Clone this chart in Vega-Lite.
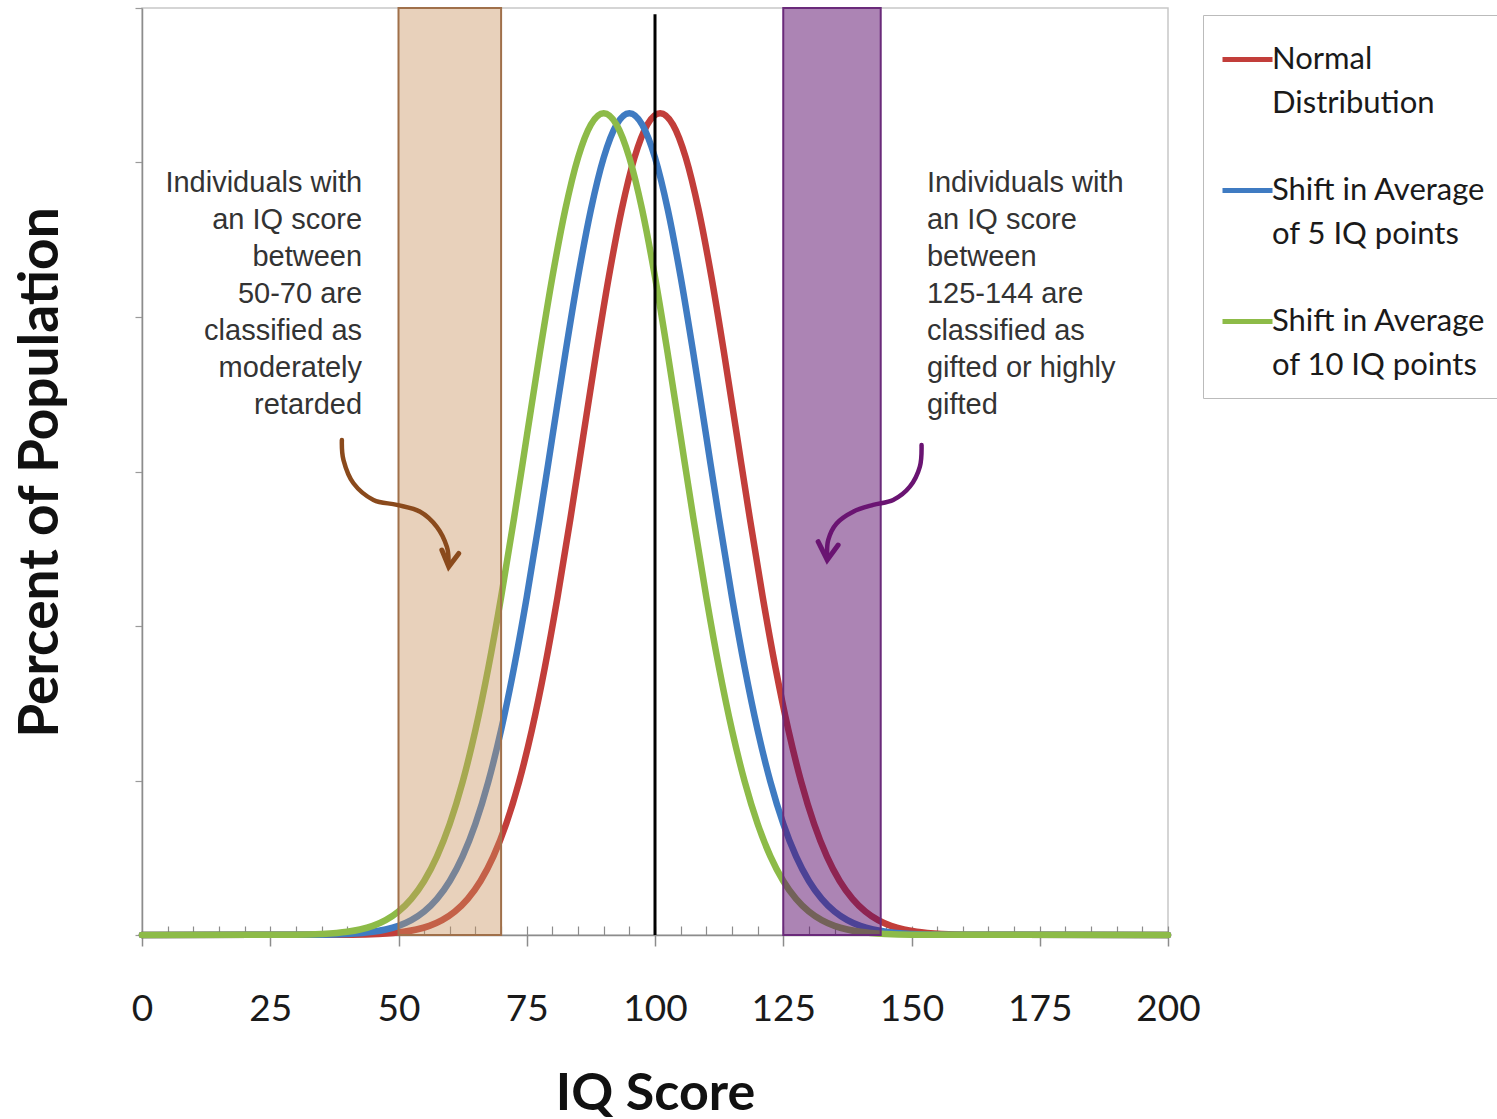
{
  "$schema": "https://vega.github.io/schema/vega-lite/v6.json",
  "width": 1026,
  "height": 927,
  "autosize": {"type": "none"},
  "padding": {"left": 142, "top": 8, "right": 329, "bottom": 184},
  "background": "white",
  "config": {
    "font": "Lato",
    "view": {"stroke": "#C8C8C8", "strokeWidth": 1.5},
    "style": {"guide-label": {"lineHeight": 44}}
  },
  "datasets": {
    "curves": [
      {"s": "Normal", "x": 0, "y": 0},
      {"s": "Normal", "x": 41, "y": 0.0009},
      {"s": "Normal", "x": 46, "y": 0.0032},
      {"s": "Normal", "x": 51, "y": 0.0103},
      {"s": "Normal", "x": 53.5, "y": 0.0177},
      {"s": "Normal", "x": 56, "y": 0.0296},
      {"s": "Normal", "x": 58.5, "y": 0.0481},
      {"s": "Normal", "x": 61, "y": 0.0760},
      {"s": "Normal", "x": 63.5, "y": 0.1169},
      {"s": "Normal", "x": 66, "y": 0.1748},
      {"s": "Normal", "x": 68.5, "y": 0.2544},
      {"s": "Normal", "x": 71, "y": 0.3599},
      {"s": "Normal", "x": 73.5, "y": 0.4954},
      {"s": "Normal", "x": 76, "y": 0.6632},
      {"s": "Normal", "x": 78.5, "y": 0.8634},
      {"s": "Normal", "x": 81, "y": 1.0934},
      {"s": "Normal", "x": 83.5, "y": 1.3467},
      {"s": "Normal", "x": 86, "y": 1.6131},
      {"s": "Normal", "x": 88.5, "y": 1.8795},
      {"s": "Normal", "x": 91, "y": 2.1297},
      {"s": "Normal", "x": 93.5, "y": 2.3471},
      {"s": "Normal", "x": 96, "y": 2.5159},
      {"s": "Normal", "x": 98.5, "y": 2.6229},
      {"s": "Normal", "x": 101, "y": 2.6596},
      {"s": "Normal", "x": 103.5, "y": 2.6229},
      {"s": "Normal", "x": 106, "y": 2.5159},
      {"s": "Normal", "x": 108.5, "y": 2.3471},
      {"s": "Normal", "x": 111, "y": 2.1297},
      {"s": "Normal", "x": 113.5, "y": 1.8795},
      {"s": "Normal", "x": 116, "y": 1.6131},
      {"s": "Normal", "x": 118.5, "y": 1.3467},
      {"s": "Normal", "x": 121, "y": 1.0934},
      {"s": "Normal", "x": 123.5, "y": 0.8634},
      {"s": "Normal", "x": 126, "y": 0.6632},
      {"s": "Normal", "x": 128.5, "y": 0.4954},
      {"s": "Normal", "x": 131, "y": 0.3599},
      {"s": "Normal", "x": 133.5, "y": 0.2544},
      {"s": "Normal", "x": 136, "y": 0.1748},
      {"s": "Normal", "x": 138.5, "y": 0.1169},
      {"s": "Normal", "x": 141, "y": 0.0760},
      {"s": "Normal", "x": 143.5, "y": 0.0481},
      {"s": "Normal", "x": 146, "y": 0.0296},
      {"s": "Normal", "x": 148.5, "y": 0.0177},
      {"s": "Normal", "x": 151, "y": 0.0103},
      {"s": "Normal", "x": 156, "y": 0.0032},
      {"s": "Normal", "x": 161, "y": 0.0009},
      {"s": "Normal", "x": 200, "y": 0},
      {"s": "Shift 5", "x": 0, "y": 0},
      {"s": "Shift 5", "x": 35, "y": 0.0009},
      {"s": "Shift 5", "x": 40, "y": 0.0032},
      {"s": "Shift 5", "x": 45, "y": 0.0103},
      {"s": "Shift 5", "x": 47.5, "y": 0.0177},
      {"s": "Shift 5", "x": 50, "y": 0.0296},
      {"s": "Shift 5", "x": 52.5, "y": 0.0481},
      {"s": "Shift 5", "x": 55, "y": 0.0760},
      {"s": "Shift 5", "x": 57.5, "y": 0.1169},
      {"s": "Shift 5", "x": 60, "y": 0.1748},
      {"s": "Shift 5", "x": 62.5, "y": 0.2544},
      {"s": "Shift 5", "x": 65, "y": 0.3599},
      {"s": "Shift 5", "x": 67.5, "y": 0.4954},
      {"s": "Shift 5", "x": 70, "y": 0.6632},
      {"s": "Shift 5", "x": 72.5, "y": 0.8634},
      {"s": "Shift 5", "x": 75, "y": 1.0934},
      {"s": "Shift 5", "x": 77.5, "y": 1.3467},
      {"s": "Shift 5", "x": 80, "y": 1.6131},
      {"s": "Shift 5", "x": 82.5, "y": 1.8795},
      {"s": "Shift 5", "x": 85, "y": 2.1297},
      {"s": "Shift 5", "x": 87.5, "y": 2.3471},
      {"s": "Shift 5", "x": 90, "y": 2.5159},
      {"s": "Shift 5", "x": 92.5, "y": 2.6229},
      {"s": "Shift 5", "x": 95, "y": 2.6596},
      {"s": "Shift 5", "x": 97.5, "y": 2.6229},
      {"s": "Shift 5", "x": 100, "y": 2.5159},
      {"s": "Shift 5", "x": 102.5, "y": 2.3471},
      {"s": "Shift 5", "x": 105, "y": 2.1297},
      {"s": "Shift 5", "x": 107.5, "y": 1.8795},
      {"s": "Shift 5", "x": 110, "y": 1.6131},
      {"s": "Shift 5", "x": 112.5, "y": 1.3467},
      {"s": "Shift 5", "x": 115, "y": 1.0934},
      {"s": "Shift 5", "x": 117.5, "y": 0.8634},
      {"s": "Shift 5", "x": 120, "y": 0.6632},
      {"s": "Shift 5", "x": 122.5, "y": 0.4954},
      {"s": "Shift 5", "x": 125, "y": 0.3599},
      {"s": "Shift 5", "x": 127.5, "y": 0.2544},
      {"s": "Shift 5", "x": 130, "y": 0.1748},
      {"s": "Shift 5", "x": 132.5, "y": 0.1169},
      {"s": "Shift 5", "x": 135, "y": 0.0760},
      {"s": "Shift 5", "x": 137.5, "y": 0.0481},
      {"s": "Shift 5", "x": 140, "y": 0.0296},
      {"s": "Shift 5", "x": 142.5, "y": 0.0177},
      {"s": "Shift 5", "x": 145, "y": 0.0103},
      {"s": "Shift 5", "x": 150, "y": 0.0032},
      {"s": "Shift 5", "x": 155, "y": 0.0009},
      {"s": "Shift 5", "x": 200, "y": 0},
      {"s": "Shift 10", "x": 0, "y": 0},
      {"s": "Shift 10", "x": 30, "y": 0.0009},
      {"s": "Shift 10", "x": 35, "y": 0.0032},
      {"s": "Shift 10", "x": 40, "y": 0.0103},
      {"s": "Shift 10", "x": 42.5, "y": 0.0177},
      {"s": "Shift 10", "x": 45, "y": 0.0296},
      {"s": "Shift 10", "x": 47.5, "y": 0.0481},
      {"s": "Shift 10", "x": 50, "y": 0.0760},
      {"s": "Shift 10", "x": 52.5, "y": 0.1169},
      {"s": "Shift 10", "x": 55, "y": 0.1748},
      {"s": "Shift 10", "x": 57.5, "y": 0.2544},
      {"s": "Shift 10", "x": 60, "y": 0.3599},
      {"s": "Shift 10", "x": 62.5, "y": 0.4954},
      {"s": "Shift 10", "x": 65, "y": 0.6632},
      {"s": "Shift 10", "x": 67.5, "y": 0.8634},
      {"s": "Shift 10", "x": 70, "y": 1.0934},
      {"s": "Shift 10", "x": 72.5, "y": 1.3467},
      {"s": "Shift 10", "x": 75, "y": 1.6131},
      {"s": "Shift 10", "x": 77.5, "y": 1.8795},
      {"s": "Shift 10", "x": 80, "y": 2.1297},
      {"s": "Shift 10", "x": 82.5, "y": 2.3471},
      {"s": "Shift 10", "x": 85, "y": 2.5159},
      {"s": "Shift 10", "x": 87.5, "y": 2.6229},
      {"s": "Shift 10", "x": 90, "y": 2.6596},
      {"s": "Shift 10", "x": 92.5, "y": 2.6229},
      {"s": "Shift 10", "x": 95, "y": 2.5159},
      {"s": "Shift 10", "x": 97.5, "y": 2.3471},
      {"s": "Shift 10", "x": 100, "y": 2.1297},
      {"s": "Shift 10", "x": 102.5, "y": 1.8795},
      {"s": "Shift 10", "x": 105, "y": 1.6131},
      {"s": "Shift 10", "x": 107.5, "y": 1.3467},
      {"s": "Shift 10", "x": 110, "y": 1.0934},
      {"s": "Shift 10", "x": 112.5, "y": 0.8634},
      {"s": "Shift 10", "x": 115, "y": 0.6632},
      {"s": "Shift 10", "x": 117.5, "y": 0.4954},
      {"s": "Shift 10", "x": 120, "y": 0.3599},
      {"s": "Shift 10", "x": 122.5, "y": 0.2544},
      {"s": "Shift 10", "x": 125, "y": 0.1748},
      {"s": "Shift 10", "x": 127.5, "y": 0.1169},
      {"s": "Shift 10", "x": 130, "y": 0.0760},
      {"s": "Shift 10", "x": 132.5, "y": 0.0481},
      {"s": "Shift 10", "x": 135, "y": 0.0296},
      {"s": "Shift 10", "x": 137.5, "y": 0.0177},
      {"s": "Shift 10", "x": 140, "y": 0.0103},
      {"s": "Shift 10", "x": 145, "y": 0.0032},
      {"s": "Shift 10", "x": 150, "y": 0.0009},
      {"s": "Shift 10", "x": 200, "y": 0}
    ],
    "brownArrow": [
      {"g": "path", "i": 0, "x": 38.96, "y": 1.602},
      {"g": "path", "i": 1, "x": 39.28, "y": 1.537},
      {"g": "path", "i": 2, "x": 41.22, "y": 1.462},
      {"g": "path", "i": 3, "x": 45.12, "y": 1.408},
      {"g": "path", "i": 4, "x": 49.68, "y": 1.392},
      {"g": "path", "i": 5, "x": 54.22, "y": 1.370},
      {"g": "path", "i": 6, "x": 57.47, "y": 1.321},
      {"g": "path", "i": 7, "x": 59.42, "y": 1.257},
      {"g": "path", "i": 8, "x": 59.75, "y": 1.205},
      {"g": "head", "i": 0, "x": 58.45, "y": 1.246},
      {"g": "head", "i": 1, "x": 59.79, "y": 1.192},
      {"g": "head", "i": 2, "x": 61.74, "y": 1.235}
    ],
    "purpleArrow": [
      {"g": "path", "i": 0, "x": 151.96, "y": 1.586},
      {"g": "path", "i": 1, "x": 151.63, "y": 1.516},
      {"g": "path", "i": 2, "x": 149.68, "y": 1.451},
      {"g": "path", "i": 3, "x": 146.43, "y": 1.408},
      {"g": "path", "i": 4, "x": 142.53, "y": 1.392},
      {"g": "path", "i": 5, "x": 138.63, "y": 1.370},
      {"g": "path", "i": 6, "x": 135.40, "y": 1.332},
      {"g": "path", "i": 7, "x": 133.76, "y": 1.278},
      {"g": "path", "i": 8, "x": 133.57, "y": 1.220},
      {"g": "head", "i": 0, "x": 131.8, "y": 1.273},
      {"g": "head", "i": 1, "x": 133.57, "y": 1.214},
      {"g": "head", "i": 2, "x": 135.7, "y": 1.262}
    ]
  },
  "layer": [
    {
      "data": {"name": "curves"},
      "mark": {"type": "line", "strokeWidth": 6.5, "interpolate": "monotone", "strokeCap": "round"},
      "encoding": {
        "x": {
          "field": "x", "type": "quantitative",
          "scale": {"domain": [0, 200], "nice": false, "zero": false},
          "axis": {
            "orient": "bottom",
            "values": [0, 25, 50, 75, 100, 125, 150, 175, 200],
            "grid": false,
            "tickSize": 11, "tickColor": "#8C8C8C", "tickWidth": 1.5,
            "domainColor": "#8C8C8C", "domainWidth": 1.5,
            "labelFont": "Lato", "labelFontSize": 37, "labelColor": "#1A1A1A",
            "labelPadding": 63, "labelBaseline": "middle", "labelFlush": false, "labelOverlap": false,
            "title": "IQ Score", "titleFont": "Lato", "titleFontWeight": "bold", "titleFontSize": 52,
            "titleColor": "#111111", "titleY": 158, "titleBaseline": "middle"
          }
        },
        "y": {
          "field": "y", "type": "quantitative",
          "scale": {"domain": [0, 3], "nice": false},
          "axis": {
            "values": [0, 0.5, 1, 1.5, 2, 2.5, 3],
            "labels": false, "grid": false,
            "tickSize": 7, "tickColor": "#9A9A9A", "tickWidth": 1.2,
            "domainColor": "#8C8C8C", "domainWidth": 1.5,
            "title": "Percent of Population", "titleFont": "Lato", "titleFontWeight": "bold",
            "titleFontSize": 55, "titleColor": "#111111", "titleX": -102, "titleY": 464,
            "titleBaseline": "middle", "titleAngle": 270
          }
        },
        "color": {
          "field": "s", "type": "nominal",
          "scale": {"domain": ["Normal", "Shift 5", "Shift 10"], "range": ["#C23E3A", "#3F7BC2", "#8DBB48"]},
          "legend": {
            "orient": "none", "legendX": 1061, "legendY": 7,
            "title": null,
            "symbolType": "stroke", "symbolSize": 2500, "symbolStrokeWidth": 5,
            "labelFont": "Lato", "labelFontSize": 31, "labelColor": "#1A1A1A",
            "labelLimit": 400, "labelOffset": -3, "labelBaseline": "middle",
            "labelExpr": "datum.label == 'Normal' ? ['Normal', 'Distribution'] : datum.label == 'Shift 5' ? ['Shift in Average', 'of 5 IQ points'] : ['Shift in Average', 'of 10 IQ points']",
            "strokeColor": "#BBBBBB", "fillColor": "white", "padding": 17, "rowPadding": 44
          }
        }
      }
    },
    {
      "data": {"values": [{"lo": 50, "hi": 70}]},
      "mark": {"type": "rect", "fill": "#C8915E", "fillOpacity": 0.42, "stroke": "#A0704A", "strokeWidth": 2},
      "encoding": {
        "x": {"field": "lo", "type": "quantitative", "axis": null},
        "x2": {"field": "hi"},
        "y": {"datum": 0},
        "y2": {"datum": 3}
      }
    },
    {
      "data": {"values": [{"lo": 125, "hi": 144}]},
      "mark": {"type": "rect", "fill": "#5A0A6A", "fillOpacity": 0.5, "stroke": "#6A2A7A", "strokeWidth": 2},
      "encoding": {
        "x": {"field": "lo", "type": "quantitative", "axis": null},
        "x2": {"field": "hi"},
        "y": {"datum": 0},
        "y2": {"datum": 3}
      }
    },
    {
      "data": {"values": [{"x": 100, "bottom": 0, "top": 2.98}]},
      "mark": {"type": "rule", "color": "black", "strokeWidth": 3},
      "encoding": {
        "x": {
          "field": "x", "type": "quantitative",
          "axis": {
            "orient": "bottom",
            "values": [5, 10, 15, 20, 25, 30, 35, 40, 45, 50, 55, 60, 65, 70, 75, 80, 85, 90, 95, 100, 105, 110, 115, 120, 125, 130, 135, 140, 145, 150, 155, 160, 165, 170, 175, 180, 185, 190, 195, 200],
            "domain": false, "labels": false, "grid": false, "title": null,
            "tickSize": -9, "tickColor": "#8C8C8C", "tickWidth": 1.2
          }
        },
        "y": {"field": "bottom", "type": "quantitative"},
        "y2": {"field": "top"}
      }
    },
    {
      "data": {"name": "brownArrow"},
      "transform": [{"filter": "datum.g == 'path'"}],
      "mark": {"type": "line", "color": "#8A4A1C", "strokeWidth": 4.5, "interpolate": "cardinal", "strokeCap": "round"},
      "encoding": {
        "x": {"field": "x", "type": "quantitative", "axis": null},
        "y": {"field": "y", "type": "quantitative"},
        "order": {"field": "i"}
      }
    },
    {
      "data": {"name": "brownArrow"},
      "transform": [{"filter": "datum.g == 'head'"}],
      "mark": {"type": "line", "color": "#8A4A1C", "strokeWidth": 5, "strokeCap": "round", "strokeJoin": "miter"},
      "encoding": {
        "x": {"field": "x", "type": "quantitative", "axis": null},
        "y": {"field": "y", "type": "quantitative"},
        "order": {"field": "i"}
      }
    },
    {
      "data": {"name": "purpleArrow"},
      "transform": [{"filter": "datum.g == 'path'"}],
      "mark": {"type": "line", "color": "#6A1472", "strokeWidth": 4.5, "interpolate": "cardinal", "strokeCap": "round"},
      "encoding": {
        "x": {"field": "x", "type": "quantitative", "axis": null},
        "y": {"field": "y", "type": "quantitative"},
        "order": {"field": "i"}
      }
    },
    {
      "data": {"name": "purpleArrow"},
      "transform": [{"filter": "datum.g == 'head'"}],
      "mark": {"type": "line", "color": "#6A1472", "strokeWidth": 5, "strokeCap": "round", "strokeJoin": "miter"},
      "encoding": {
        "x": {"field": "x", "type": "quantitative", "axis": null},
        "y": {"field": "y", "type": "quantitative"},
        "order": {"field": "i"}
      }
    },
    {
      "data": {"values": [{"x": 42.9, "y": 2.434, "t": "Individuals with\nan IQ score\nbetween\n50-70 are\nclassified as\nmoderately\nretarded"}]},
      "mark": {"type": "text", "align": "right", "baseline": "middle", "font": "Liberation Sans", "fontSize": 29, "lineHeight": 37, "lineBreak": "\n", "color": "#333333"},
      "encoding": {
        "x": {"field": "x", "type": "quantitative", "axis": null},
        "y": {"field": "y", "type": "quantitative"},
        "text": {"field": "t"}
      }
    },
    {
      "data": {"values": [{"x": 153.0, "y": 2.434, "t": "Individuals with\nan IQ score\nbetween\n125-144 are\nclassified as\ngifted or highly\ngifted"}]},
      "mark": {"type": "text", "align": "left", "baseline": "middle", "font": "Liberation Sans", "fontSize": 29, "lineHeight": 37, "lineBreak": "\n", "color": "#333333"},
      "encoding": {
        "x": {"field": "x", "type": "quantitative", "axis": null},
        "y": {"field": "y", "type": "quantitative"},
        "text": {"field": "t"}
      }
    }
  ],
  "resolve": {"axis": {"x": "independent"}}
}
